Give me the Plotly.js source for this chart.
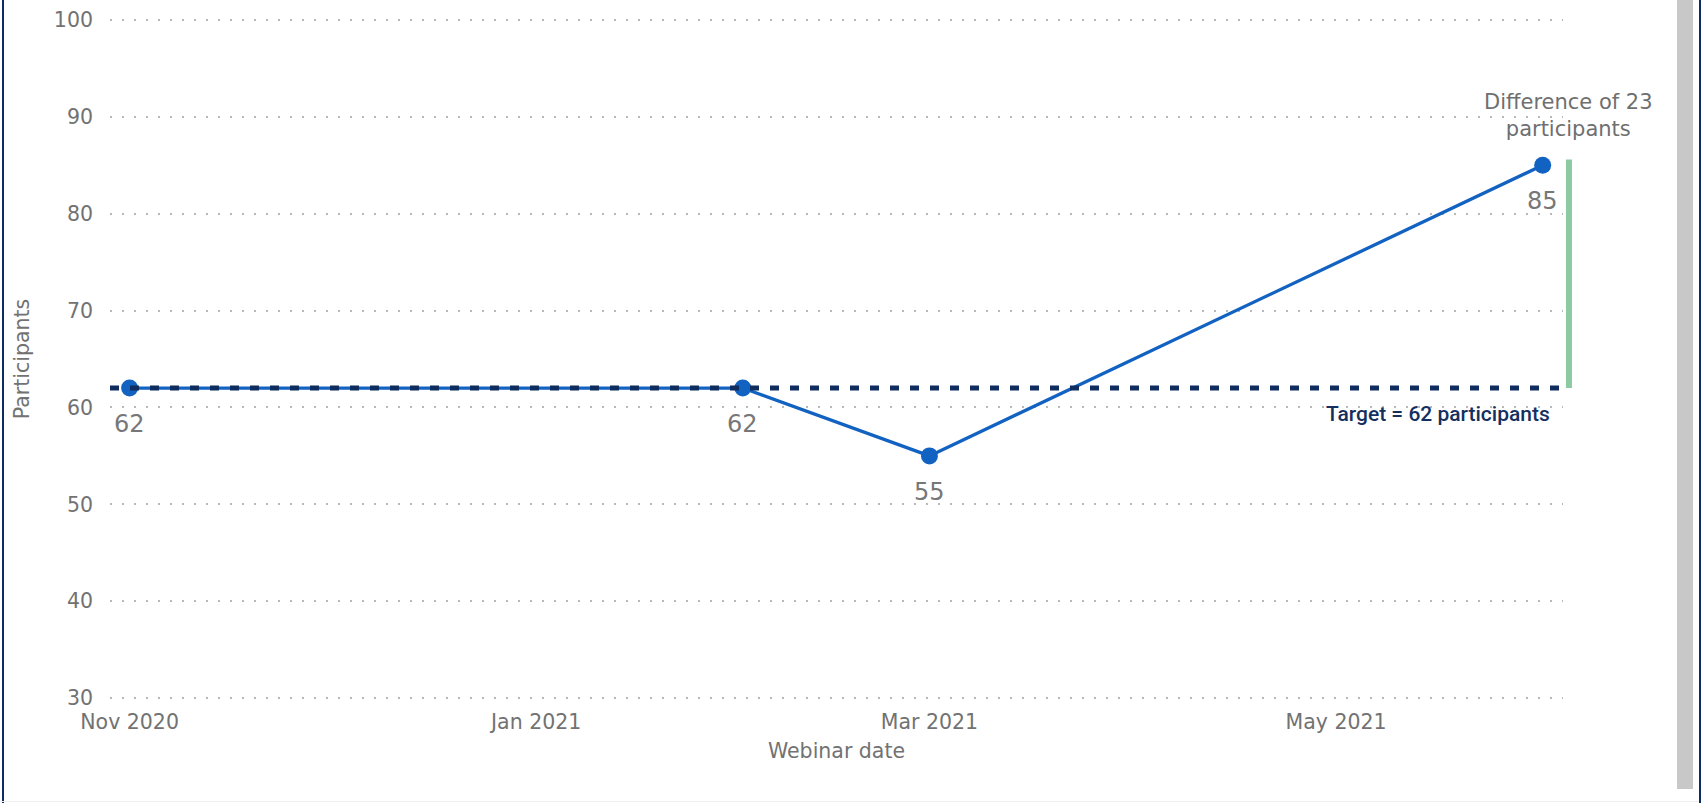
<!DOCTYPE html>
<html>
<head>
<meta charset="utf-8">
<script src="https://cdn.plot.ly/plotly-3.0.1.min.js"></script>
<style>
  html, body { margin: 0; padding: 0; background: #ffffff; overflow: hidden; }
  #wrap { position: relative; width: 1707px; height: 803px; }
  #chart { position: absolute; left: 0; top: 0; width: 1707px; height: 803px; }
  .deco { position: absolute; pointer-events: none; }
</style>
</head>
<body>
<div id="wrap">
  <div id="chart"></div>
  <div class="deco" style="left:2px;top:0;width:2px;height:803px;background:#0e2a63;"></div>
  <div class="deco" style="left:0;top:801px;width:1699px;height:1px;background:#eeeeee;"></div>
  <div class="deco" style="left:1677px;top:0;width:16px;height:789px;background:#c8c8c8;"></div>
  <div class="deco" style="left:1699px;top:0;width:2px;height:803px;background:#0e2a63;"></div>
</div>
<script>
// ---- data ----
const webinarDates = ['2020-11-01', '2021-02-01', '2021-03-01', '2021-06-01'];
const participants = [62, 62, 55, 85];
const TARGET = 62;
const xRange = ['2020-10-29 01:25', '2021-06-04 01:10'];
const yRange = [29.7, 100.3];

const grey = '#727272';
const font = 'DejaVu Sans, Verdana, sans-serif';

const lastVal = participants[participants.length - 1];
const diff = lastVal - TARGET;

const traces = [{
  type: 'scatter',
  mode: 'lines+markers',
  x: webinarDates,
  y: participants,
  line: { color: '#1262c2', width: 3.3 },
  marker: { color: '#1262c2', size: 17 },
  hoverinfo: 'skip',
  showlegend: false
}];

const labelAnns = webinarDates.map((d, i) => ({
  x: d, y: participants[i], xref: 'x', yref: 'y',
  text: String(participants[i]), showarrow: false,
  yshift: -36, yanchor: 'middle', xanchor: 'center',
  font: { family: font, size: 24, color: '#777777' }
}));

const layout = {
  width: 1707, height: 803,
  margin: { l: 110, r: 144, t: 17, b: 102, pad: 0 },
  paper_bgcolor: '#ffffff', plot_bgcolor: '#ffffff',
  showlegend: false,
  font: { family: font, color: grey },
  xaxis: {
    type: 'date', range: xRange,
    tick0: '2020-11-01', dtick: 'M2', tickformat: '%b %Y',
    showgrid: false, zeroline: false, showline: false,
    ticks: '', ticklabelstandoff: 6,
    tickfont: { family: font, size: 20.5, color: grey },
    title: { text: 'Webinar date', font: { family: font, size: 20.5, color: grey }, standoff: 11 },
    fixedrange: true
  },
  yaxis: {
    range: yRange, tickmode: 'linear', dtick: 10, tick0: 0,
    showgrid: true, gridcolor: '#b8b8b8', gridwidth: 2, griddash: '2px,10px',
    zeroline: false, showline: false,
    ticks: '', ticklabelstandoff: 16,
    tickfont: { family: font, size: 20.5, color: grey },
    title: { text: 'Participants', font: { family: font, size: 20.5, color: grey }, standoff: 18 },
    fixedrange: true
  },
  shapes: [
    {
      type: 'line', xref: 'paper', yref: 'y',
      x0: 0, x1: 1, y0: TARGET, y1: TARGET,
      line: { color: '#0f2d5e', width: 5, dash: '9px,11px' },
      layer: 'above'
    },
    {
      type: 'line', xref: 'paper', yref: 'y',
      x0: 1.0041, x1: 1.0041, y0: TARGET, y1: lastVal + 0.6,
      line: { color: '#8ccaa4', width: 6 },
      layer: 'above'
    }
  ],
  annotations: labelAnns.concat([
    {
      xref: 'paper', yref: 'y', x: 0.9924, y: TARGET,
      xanchor: 'right', yanchor: 'middle', yshift: -26,
      text: 'Target = ' + TARGET + ' participants', showarrow: false,
      font: { family: 'Roboto, sans-serif', size: 21, color: '#15305f', weight: 500 }
    },
    {
      xref: 'paper', yref: 'y', x: 1.0041, y: lastVal,
      xanchor: 'center', yanchor: 'middle', yshift: 50,
      text: 'Difference of ' + diff + '<br>participants', showarrow: false,
      font: { family: font, size: 21, color: '#6f6f6f' }
    }
  ])
};

Plotly.newPlot('chart', traces, layout, { displayModeBar: false, staticPlot: true });
</script>
</body>
</html>
